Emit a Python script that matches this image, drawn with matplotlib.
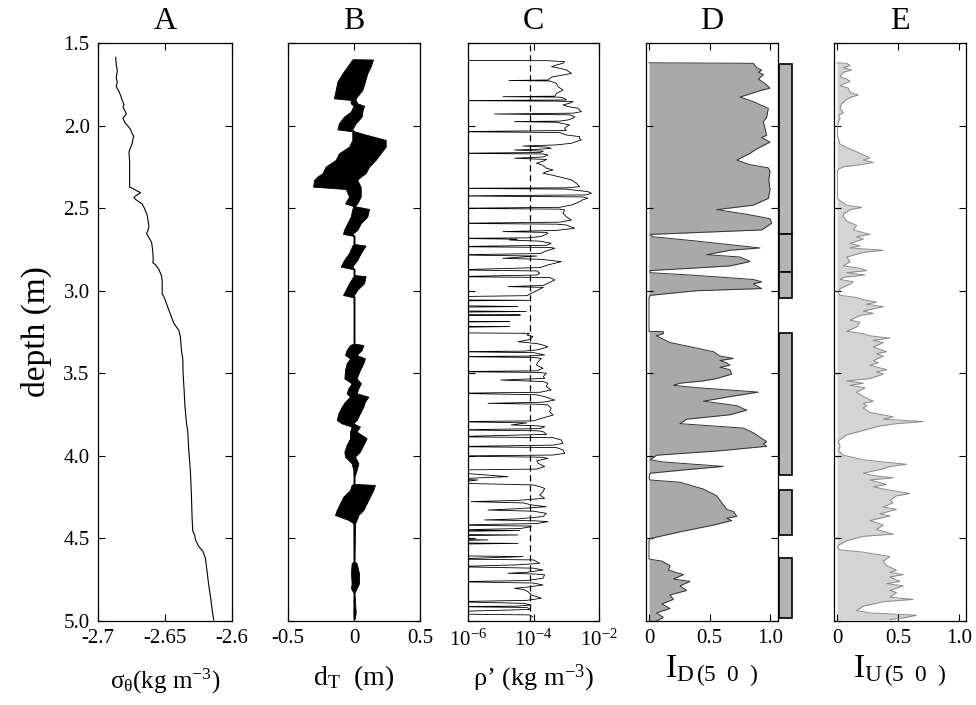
import numpy as np
import matplotlib
matplotlib.use("Agg")
import matplotlib.pyplot as plt
from matplotlib.ticker import NullLocator

plt.rcParams["font.family"] = ["Liberation Serif", "DejaVu Serif"]
plt.rcParams["mathtext.fontset"] = "custom"
plt.rcParams["mathtext.rm"] = "Liberation Serif"
plt.rcParams["mathtext.it"] = "Liberation Serif:italic"
plt.rcParams["mathtext.bf"] = "Liberation Serif:bold"

# panel A: potential density anomaly
a_depth = [1.587, 1.628, 1.669, 1.710, 1.738, 1.765, 1.792, 1.819, 1.847, 1.874, 1.888,
           1.910, 1.929, 1.956, 1.983, 1.997, 2.024, 2.051, 2.065, 2.079, 2.106, 2.147,
           2.161, 2.215, 2.297, 2.374, 2.379, 2.393, 2.406, 2.420, 2.434, 2.447, 2.461,
           2.475, 2.502, 2.543, 2.584, 2.611, 2.638, 2.652, 2.679, 2.707, 2.761, 2.816,
           2.830, 2.843, 2.870, 2.911, 2.939, 2.980, 3.021, 3.034, 3.089, 3.143, 3.198,
           3.239, 3.280, 3.362, 3.416, 3.498, 3.608, 3.689, 3.799, 3.853, 3.962, 4.099,
           4.235, 4.372, 4.454, 4.481, 4.508, 4.549, 4.577, 4.618, 4.700, 4.781, 4.863,
           4.945, 4.994]
a_sigma = [-2.6868, -2.6864, -2.6856, -2.6864, -2.6856, -2.6864, -2.6844, -2.6831, -2.6819,
           -2.6806, -2.6814, -2.6799, -2.6789, -2.6814, -2.6799, -2.6782, -2.6757, -2.6744,
           -2.6732, -2.6739, -2.6744, -2.6764, -2.6769, -2.6764, -2.6764, -2.6764, -2.6744,
           -2.6715, -2.6682, -2.6707, -2.6732, -2.6720, -2.6695, -2.6670, -2.6653, -2.6633,
           -2.6625, -2.6620, -2.6628, -2.6638, -2.6620, -2.6600, -2.6591, -2.6588, -2.6591,
           -2.6571, -2.6546, -2.6526, -2.6521, -2.6521, -2.6521, -2.6509, -2.6484, -2.6459,
           -2.6434, -2.6397, -2.6385, -2.6377, -2.6367, -2.6365, -2.6357, -2.6352, -2.6340,
           -2.6330, -2.6323, -2.6310, -2.6303, -2.6298, -2.6293, -2.6278, -2.6273, -2.6248,
           -2.6218, -2.6199, -2.6186, -2.6174, -2.6159, -2.6146, -2.6136]

# panel B: Thorpe displacement envelope (min / max per depth)
b_depth = [1.598, 1.600, 1.643, 1.684, 1.734, 1.785, 1.835, 1.845, 1.865, 1.880, 1.916,
           1.946, 1.986, 2.023, 2.035, 2.057, 2.087, 2.128, 2.168, 2.208, 2.249, 2.289,
           2.309, 2.329, 2.370, 2.384, 2.430, 2.471, 2.488, 2.505, 2.551, 2.592, 2.632,
           2.656, 2.668, 2.717, 2.727, 2.773, 2.814, 2.854, 2.870, 2.905, 2.912, 2.955,
           2.995, 3.026, 3.040, 3.320, 3.329, 3.359, 3.389, 3.410, 3.440, 3.480, 3.531,
           3.561, 3.591, 3.621, 3.642, 3.672, 3.702, 3.743, 3.783, 3.803, 3.823, 3.853,
           3.894, 3.934, 3.975, 4.005, 4.045, 4.086, 4.126, 4.170, 4.176, 4.207, 4.247,
           4.287, 4.328, 4.358, 4.388, 4.408, 4.640, 4.650, 4.711, 4.772, 4.802, 4.830,
           4.953, 4.990]
b_left = [-0.004, -0.013, -0.051, -0.088, -0.126, -0.139, -0.152, -0.025, -0.025, -0.004,
          -0.025, -0.076, -0.114, -0.126, -0.013, -0.013, -0.013, -0.038, -0.114, -0.139,
          -0.215, -0.240, -0.278, -0.303, -0.310, -0.063, -0.038, -0.068, -0.004, -0.013,
          -0.025, -0.051, -0.076, -0.083, -0.004, -0.004, -0.013, -0.038, -0.076, -0.101,
          -0.004, -0.004, -0.004, -0.038, -0.063, -0.083, -0.004, -0.004, -0.030, -0.056,
          -0.068, -0.030, -0.056, -0.068, -0.073, -0.018, -0.043, -0.056, -0.030, -0.068,
          -0.093, -0.119, -0.131, -0.094, -0.018, -0.030, -0.030, -0.056, -0.073, -0.068,
          -0.018, -0.005, -0.004, -0.004, -0.018, -0.030, -0.081, -0.106, -0.131, -0.144,
          -0.043, -0.005, -0.004, -0.018, -0.023, -0.018, -0.023, -0.004, -0.005, -0.004]
b_right = [0.004, 0.144, 0.126, 0.101, 0.083, 0.063, 0.013, 0.013, 0.025, 0.076,
           0.063, 0.058, 0.013, -0.013, 0.004, 0.100, 0.240, 0.240, 0.202, 0.164,
           0.114, 0.088, 0.051, 0.025, 0.050, 0.051, 0.051, 0.025, 0.004, 0.114,
           0.101, 0.051, 0.025, -0.013, 0.004, 0.004, 0.088, 0.051, 0.025, -0.013,
           0.004, 0.004, 0.088, 0.076, 0.025, 0.000, 0.004, 0.004, 0.071, 0.058,
           0.020, 0.083, 0.071, 0.045, 0.020, 0.053, 0.033, 0.020, 0.109, 0.083,
           0.071, 0.045, 0.020, -0.005, 0.045, 0.020, 0.096, 0.071, 0.045, 0.008,
           0.033, 0.020, 0.004, 0.004, 0.159, 0.146, 0.121, 0.096, 0.071, 0.033,
           0.020, 0.008, 0.004, 0.020, 0.038, 0.038, 0.020, 0.004, 0.013, 0.004]

# panel C: density fluctuation, log10 (kg m-3); -6.5 = below axis
c_depth = [1.605, 1.607, 1.613, 1.623, 1.633, 1.643, 1.653, 1.663, 1.684, 1.694, 1.704, 1.714,
           1.724, 1.727, 1.730, 1.745, 1.764, 1.785, 1.805, 1.822, 1.825, 1.828, 1.835, 1.845,
           1.849, 1.852, 1.855, 1.865, 1.875, 1.885, 1.895, 1.905, 1.916, 1.925, 1.930, 1.935,
           1.946, 1.956, 1.966, 1.973, 1.976, 1.980, 1.996, 2.007, 2.017, 2.030, 2.037, 2.042,
           2.057, 2.067, 2.077, 2.087, 2.097, 2.107, 2.117, 2.124, 2.130, 2.138, 2.143, 2.148,
           2.155, 2.163, 2.168, 2.172, 2.178, 2.190, 2.198, 2.205, 2.215, 2.228, 2.238, 2.249,
           2.259, 2.269, 2.279, 2.289, 2.299, 2.309, 2.329, 2.350, 2.370, 2.377, 2.380, 2.385,
           2.400, 2.410, 2.420, 2.426, 2.432, 2.440, 2.450, 2.461, 2.481, 2.495, 2.501, 2.506,
           2.511, 2.531, 2.551, 2.572, 2.585, 2.592, 2.597, 2.602, 2.622, 2.635, 2.642, 2.647,
           2.652, 2.672, 2.680, 2.683, 2.688, 2.693, 2.700, 2.713, 2.725, 2.733, 2.738, 2.743,
           2.763, 2.775, 2.783, 2.790, 2.804, 2.810, 2.824, 2.844, 2.860, 2.874, 2.880, 2.894,
           2.905, 2.915, 2.920, 2.935, 2.955, 2.968, 2.975, 2.980, 2.985, 3.000, 3.016, 3.030,
           3.036, 3.056, 3.058, 3.062, 3.090, 3.096, 3.100, 3.122, 3.126, 3.130, 3.145, 3.147,
           3.150, 3.185, 3.187, 3.190, 3.215, 3.217, 3.222, 3.255, 3.258, 3.268, 3.278, 3.295,
           3.309, 3.320, 3.329, 3.339, 3.349, 3.359, 3.366, 3.369, 3.375, 3.389, 3.396, 3.399,
           3.404, 3.410, 3.430, 3.450, 3.470, 3.485, 3.490, 3.495, 3.500, 3.520, 3.531, 3.541,
           3.550, 3.561, 3.581, 3.601, 3.615, 3.621, 3.630, 3.642, 3.662, 3.675, 3.682, 3.687,
           3.692, 3.712, 3.732, 3.753, 3.773, 3.788, 3.793, 3.800, 3.813, 3.818, 3.823, 3.835,
           3.843, 3.848, 3.853, 3.870, 3.884, 3.890, 3.904, 3.924, 3.935, 3.944, 3.950, 3.964,
           3.985, 3.995, 4.001, 4.008, 4.015, 4.030, 4.045, 4.065, 4.080, 4.086, 4.100, 4.126,
           4.140, 4.146, 4.165, 4.176, 4.187, 4.197, 4.217, 4.237, 4.257, 4.270, 4.277, 4.285,
           4.297, 4.308, 4.320, 4.328, 4.335, 4.348, 4.368, 4.382, 4.388, 4.393, 4.398, 4.410,
           4.419, 4.425, 4.429, 4.440, 4.449, 4.452, 4.458, 4.476, 4.479, 4.484, 4.506, 4.509,
           4.514, 4.527, 4.530, 4.535, 4.605, 4.610, 4.625, 4.630, 4.651, 4.660, 4.671, 4.680,
           4.691, 4.705, 4.711, 4.716, 4.721, 4.741, 4.755, 4.762, 4.770, 4.782, 4.795, 4.802,
           4.810, 4.822, 4.842, 4.862, 4.875, 4.883, 4.893, 4.903, 4.910, 4.913, 4.918, 4.930,
           4.943, 4.958, 4.963, 4.968, 4.975]
c_log = [-6.5, -3.6, -3.05, -3.1, -3.3, -3.45, -3.2, -3.0, -2.84, -3.1, -3.4, -3.5,
         -3.55, -4.75, -3.5, -3.3, -3.25, -3.1, -3.3, -3.35, -4.93, -3.2, -3.05, -3.0,
         -6.5, -3.3, -2.79, -2.9, -3.1, -2.95, -2.64, -2.6, -2.54, -2.8, -5.19, -2.9,
         -2.74, -2.8, -2.95, -3.2, -4.58, -3.3, -2.9, -3.0, -3.05, -3.0, -6.5, -3.2,
         -3.0, -2.59, -2.6, -2.54, -2.7, -2.84, -3.3, -4.32, -3.6, -3.46, -3.8, -4.58,
         -3.7, -3.8, -6.5, -3.7, -3.56, -3.7, -4.58, -3.6, -3.7, -3.91, -3.75, -3.66,
         -3.6, -3.4, -3.6, -3.71, -3.45, -3.25, -2.84, -2.69, -2.59, -3.0, -6.5, -3.0,
         -2.34, -2.23, -2.4, -6.5, -2.5, -2.34, -2.5, -2.59, -2.84, -3.2, -6.5, -3.2,
         -3.05, -3.1, -3.0, -2.84, -3.2, -6.5, -3.3, -3.0, -2.74, -3.3, -4.93, -3.6,
         -3.56, -3.76, -4.2, -6.5, -4.5, -4.73, -3.8, -3.46, -3.6, -6.5, -3.5, -3.35,
         -3.66, -3.8, -6.5, -3.9, -4.93, -3.76, -3.15, -3.56, -3.8, -6.5, -3.9, -3.81,
         -3.9, -6.5, -3.5, -3.35, -3.56, -3.7, -4.78, -3.7, -3.76, -3.9, -4.07, -4.2,
         -6.5, -6.5, -4.12, -6.5, -6.5, -4.47, -6.5, -6.5, -4.22, -6.5, -6.5, -4.4,
         -6.5, -6.5, -4.73, -6.5, -6.5, -4.73, -6.5, -6.5, -4.12, -4.2, -4.02, -4.1,
         -4.47, -3.9, -3.71, -3.56, -3.7, -3.91, -4.3, -6.5, -4.0, -3.66, -4.2, -6.5,
         -4.0, -3.76, -3.86, -3.91, -3.71, -3.9, -6.5, -3.8, -3.61, -3.7, -3.66, -5.0,
         -3.7, -3.56, -3.61, -3.46, -3.8, -6.5, -3.9, -3.66, -3.35, -3.7, -5.39, -3.9,
         -3.56, -3.46, -3.51, -3.40, -3.76, -4.0, -6.5, -4.2, -4.68, -3.9, -3.66, -3.8,
         -6.5, -3.9, -3.71, -3.6, -6.5, -3.4, -3.15, -3.10, -3.4, -6.5, -3.3, -3.10,
         -3.05, -3.4, -6.5, -3.8, -3.56, -3.9, -3.86, -3.66, -3.9, -6.5, -6.5, -4.78,
         -6.5, -5.7, -6.5, -4.02, -3.8, -3.66, -3.71, -3.81, -3.66, -4.5, -5.9, -4.3,
         -4.07, -3.61, -4.5, -5.39, -4.0, -3.61, -3.71, -4.5, -5.49, -4.0, -3.56, -3.9,
         -6.5, -4.12, -4.07, -4.4, -6.5, -4.42, -6.5, -6.5, -4.47, -6.5, -6.5, -5.39,
         -6.5, -6.5, -4.47, -6.5, -6.5, -4.32, -6.5, -4.0, -3.81, -4.5, -6.5, -4.0,
         -3.71, -4.2, -4.78, -3.9, -3.66, -3.71, -4.2, -6.5, -4.0, -3.71, -4.2, -4.58,
         -4.3, -4.17, -4.07, -3.76, -4.2, -6.5, -4.3, -4.07, -4.5, -6.5, -4.2, -4.1,
         -6.5, -6.5, -4.12, -4.07, -4.02]
c_threshold = 8.0e-5

# panel D: downward overturn index
d_depth = [1.620, 1.623, 1.650, 1.664, 1.677, 1.691, 1.718, 1.746, 1.773, 1.786, 1.827, 1.855,
           1.896, 1.950, 1.977, 2.018, 2.059, 2.073, 2.100, 2.141, 2.168, 2.209, 2.237, 2.256,
           2.277, 2.332, 2.387, 2.441, 2.482, 2.509, 2.537, 2.564, 2.591, 2.618, 2.632, 2.659,
           2.673, 2.700, 2.741, 2.755, 2.782, 2.796, 2.823, 2.850, 2.878, 2.891, 2.905, 2.932,
           2.946, 2.959, 2.987, 3.000, 3.028, 3.041, 3.246, 3.248, 3.260, 3.273, 3.314, 3.369,
           3.396, 3.410, 3.423, 3.437, 3.451, 3.464, 3.478, 3.505, 3.532, 3.546, 3.560, 3.573,
           3.587, 3.614, 3.641, 3.669, 3.696, 3.723, 3.751, 3.778, 3.805, 3.832, 3.860, 3.914,
           3.928, 3.942, 3.969, 3.996, 4.024, 4.037, 4.064, 4.078, 4.105, 4.132, 4.146, 4.160,
           4.201, 4.242, 4.296, 4.324, 4.337, 4.366, 4.378, 4.392, 4.419, 4.460, 4.501, 4.514,
           4.624, 4.626, 4.637, 4.665, 4.692, 4.719, 4.746, 4.760, 4.787, 4.815, 4.842, 4.869,
           4.897, 4.924, 4.951, 4.978, 5.000]
d_index = [0.0, 0.862, 0.890, 0.931, 0.904, 0.945, 0.904, 0.959, 1.000, 0.931, 0.752, 0.862,
           0.986, 0.972, 0.945, 0.959, 0.972, 0.931, 1.000, 0.890, 0.835, 0.725, 0.835, 0.986,
           1.000, 0.990, 1.000, 0.986, 0.862, 0.559, 0.807, 1.000, 1.014, 0.959, 0.931, 0.008,
           0.030, 0.400, 0.917, 0.669, 0.477, 0.752, 0.835, 0.669, 0.008, 0.010, 0.339, 0.862,
           0.931, 0.862, 0.931, 0.394, 0.008, 0.0, 0.0, 0.118, 0.118, 0.060, 0.174, 0.532,
           0.587, 0.697, 0.587, 0.642, 0.669, 0.587, 0.669, 0.683, 0.559, 0.449, 0.256, 0.201,
           0.394, 0.904, 0.669, 0.449, 0.725, 0.807, 0.669, 0.311, 0.256, 0.780, 0.862, 0.972,
           0.945, 0.972, 0.587, 0.063, 0.008, 0.118, 0.614, 0.394, 0.008, 0.0, 0.008, 0.256,
           0.449, 0.559, 0.614, 0.642, 0.697, 0.725, 0.642, 0.683, 0.532, 0.256, 0.008, 0.0,
           0.0, 0.008, 0.105, 0.174, 0.160, 0.284, 0.201, 0.339, 0.256, 0.311, 0.174, 0.201,
           0.105, 0.174, 0.063, 0.118, 0.063]

# overturn segments marked beside panel D
seg_top = [1.628, 2.659, 2.886, 3.254, 4.206, 4.618]
seg_bottom = [2.659, 2.886, 3.047, 4.113, 4.479, 4.984]

# panel E: upward overturn index
e_depth = [1.620, 1.623, 1.636, 1.650, 1.664, 1.677, 1.705, 1.718, 1.732, 1.759, 1.773, 1.800,
           1.814, 1.827, 1.841, 1.868, 1.896, 1.923, 1.936, 1.956, 1.977, 2.018, 2.059, 2.114,
           2.141, 2.168, 2.196, 2.209, 2.223, 2.237, 2.250, 2.264, 2.277, 2.441, 2.455, 2.482,
           2.496, 2.509, 2.537, 2.550, 2.578, 2.605, 2.632, 2.659, 2.673, 2.687, 2.714, 2.728,
           2.741, 2.755, 2.768, 2.796, 2.823, 2.850, 2.864, 2.878, 2.891, 2.905, 2.919, 2.932,
           2.946, 2.959, 2.987, 3.014, 3.028, 3.041, 3.055, 3.069, 3.082, 3.096, 3.123, 3.137,
           3.150, 3.178, 3.191, 3.219, 3.246, 3.260, 3.273, 3.287, 3.300, 3.314, 3.341, 3.369,
           3.382, 3.396, 3.423, 3.437, 3.451, 3.478, 3.491, 3.505, 3.532, 3.546, 3.560, 3.573,
           3.587, 3.614, 3.641, 3.669, 3.682, 3.696, 3.710, 3.737, 3.764, 3.778, 3.792, 3.805,
           3.819, 3.846, 3.873, 3.901, 3.914, 3.942, 3.969, 3.996, 4.024, 4.037, 4.051, 4.064,
           4.078, 4.105, 4.119, 4.133, 4.146, 4.173, 4.187, 4.201, 4.228, 4.242, 4.269, 4.283,
           4.310, 4.324, 4.351, 4.364, 4.392, 4.419, 4.446, 4.474, 4.487, 4.514, 4.542, 4.555,
           4.569, 4.583, 4.610, 4.637, 4.665, 4.692, 4.706, 4.719, 4.733, 4.760, 4.774, 4.787,
           4.815, 4.828, 4.856, 4.869, 4.883, 4.897, 4.910, 4.937, 4.951, 4.965, 4.978, 4.992]
e_index = [0.0, 0.079, 0.107, 0.052, 0.120, 0.052, 0.025, 0.079, 0.107, 0.025, 0.093, 0.107,
           0.175, 0.120, 0.079, 0.038, 0.025, 0.052, 0.011, 0.025, 0.011, 0.003, 0.003, 0.025,
           0.107, 0.189, 0.270, 0.216, 0.298, 0.189, 0.052, 0.011, 0.003, 0.003, 0.025, 0.079,
           0.202, 0.107, 0.052, 0.052, 0.079, 0.161, 0.134, 0.270, 0.161, 0.216, 0.107, 0.189,
           0.107, 0.380, 0.216, 0.079, 0.107, 0.052, 0.189, 0.243, 0.079, 0.230, 0.052, 0.025,
           0.134, 0.107, 0.025, 0.011, 0.025, 0.161, 0.216, 0.325, 0.243, 0.380, 0.216, 0.298,
           0.189, 0.107, 0.189, 0.161, 0.079, 0.216, 0.270, 0.434, 0.298, 0.380, 0.298, 0.407,
           0.325, 0.380, 0.298, 0.339, 0.270, 0.407, 0.325, 0.380, 0.270, 0.079, 0.216, 0.107,
           0.230, 0.161, 0.216, 0.298, 0.216, 0.243, 0.216, 0.270, 0.462, 0.380, 0.708, 0.489,
           0.352, 0.216, 0.079, 0.025, 0.011, 0.025, 0.011, 0.052, 0.216, 0.380, 0.571, 0.434,
           0.380, 0.216, 0.298, 0.462, 0.270, 0.407, 0.298, 0.380, 0.598, 0.489, 0.434, 0.462,
           0.380, 0.489, 0.352, 0.434, 0.270, 0.380, 0.325, 0.462, 0.216, 0.079, 0.011, 0.003,
           0.025, 0.216, 0.434, 0.380, 0.407, 0.489, 0.434, 0.544, 0.434, 0.516, 0.407, 0.544,
           0.434, 0.489, 0.434, 0.626, 0.380, 0.298, 0.216, 0.161, 0.270, 0.653, 0.571, 0.434]

depth_ticks = [1.5, 2.0, 2.5, 3.0, 3.5, 4.0, 4.5, 5.0]

fig = plt.figure(figsize=(9.76, 7.05), dpi=100)
W, H = 976.0, 705.0
y0, y1 = 621, 43
lefts = [98, 288, 468, 646, 834]
rights = [232, 420, 599, 778, 966]
axes = []
for l, r in zip(lefts, rights):
    ax = fig.add_axes([l / W, 1 - y0 / H, (r - l) / W, (y0 - y1) / H])
    ax.set_ylim(5.0, 1.5)
    ax.set_yticks(depth_ticks)
    ax.tick_params(direction="in", top=True, right=True, length=5, width=0.8,
                   labelsize=15, pad=6, labelleft=False)
    for s in ax.spines.values():
        s.set_linewidth(0.9)
    axes.append(ax)
axA, axB, axC, axD, axE = axes

# A
axA.plot(a_sigma, a_depth, color="black", lw=0.8)
axA.set_xlim(-2.7, -2.6)
axA.set_xticks([-2.7, -2.65, -2.6])
axA.set_xticklabels(["-2.7", "-2.65", "-2.6"])
axA.tick_params(labelleft=True)
axA.set_yticklabels(["%.1f" % t for t in depth_ticks])
axA.set_ylabel("depth (m)", fontsize=24, labelpad=8)
axA.set_xlabel(r"σ$_{\mathrm{θ}}$(kg m$^{-3}$)", fontsize=18, labelpad=13)

# B
axB.fill_betweenx(b_depth, b_left, b_right, color="black", lw=0.6)
axB.set_xlim(-0.5, 0.5)
axB.set_xticks([-0.5, 0, 0.5])
axB.set_xticklabels(["-0.5", "0", "0.5"])
axB.set_xlabel(r"d$_{\mathrm{T}}$  (m)", fontsize=20, labelpad=11)

# C
axC.set_xscale("log")
axC.plot(10.0 ** np.array(c_log), c_depth, color="black", lw=0.6)
axC.axvline(c_threshold, color="black", lw=0.9, ls=(0, (5, 3)))
axC.set_xlim(1e-6, 1e-2)
axC.set_xticks([1e-6, 1e-4, 1e-2])
axC.xaxis.set_minor_locator(NullLocator())
axC.set_xlabel(r"ρ’ (kg m$^{-3}$)", fontsize=19, labelpad=9)

# D
axD.fill_betweenx(d_depth, 0, d_index, color="#a9a9a9", lw=0)
axD.plot(d_index, d_depth, color="#333333", lw=0.7)
seg_top_a = np.array(seg_top)
seg_bot_a = np.array(seg_bottom)
axD.barh((seg_top_a + seg_bot_a) / 2, 0.11, height=seg_bot_a - seg_top_a, left=1.075,
         color="#b4b4b4", edgecolor="black", lw=1.2, clip_on=False)
axD.set_xlim(-0.025, 1.066)
axD.set_xticks([0, 0.5, 1.0])
axD.set_xticklabels(["0", "0.5", "1.0"])
axD.set_xlabel(r"I$_{\mathrm{D\,(5\ \ 0\ \ )}}$", fontsize=24, labelpad=4)

# E
axE.fill_betweenx(e_depth, 0, e_index, color="#d4d4d4", lw=0)
axE.plot(e_index, e_depth, color="#8a8a8a", lw=0.7)
axE.set_xlim(-0.025, 1.06)
axE.set_xticks([0, 0.5, 1.0])
axE.set_xticklabels(["0", "0.5", "1.0"])
axE.set_xlabel(r"I$_{\mathrm{U\,(5\ \ 0\ \ )}}$", fontsize=24, labelpad=4)

for ax, t in zip(axes, ["A", "B", "C", "D", "E"]):
    ax.set_title(t, fontsize=23, pad=10)

fig.savefig("out.png", dpi=100)
